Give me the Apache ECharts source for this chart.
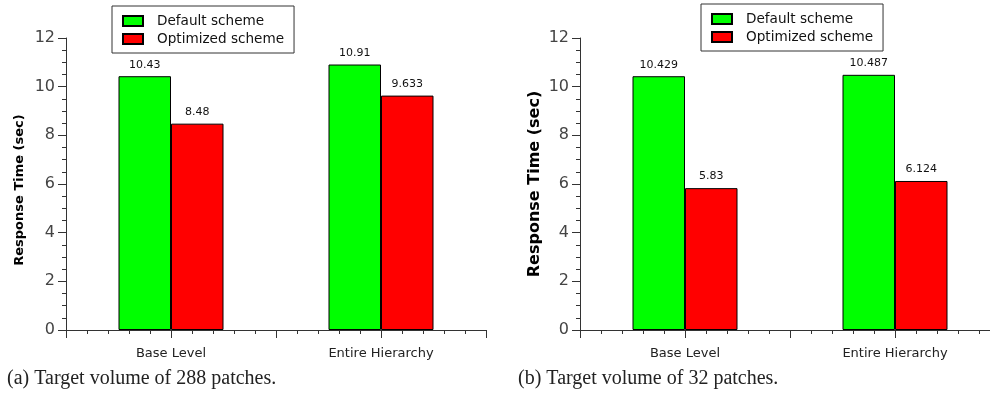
<!DOCTYPE html>
<html>
<head>
<meta charset="utf-8">
<script src="https://cdn.jsdelivr.net/npm/echarts@6/dist/echarts.min.js"></script>
<style>
html,body{margin:0;padding:0;background:#fff;}
#c{width:990px;height:397px;}
</style>
</head>
<body>
<div id="c"></div>
<script>
var categories = ['Base Level', 'Entire Hierarchy'];
var seriesNames = ['Default scheme', 'Optimized scheme'];
var defaultA = [10.43, 10.91];
var optimizedA = [8.48, 9.633];
var defaultB = [10.429, 10.487];
var optimizedB = [5.83, 6.124];
var yTicks = [0, 2, 4, 6, 8, 10, 12];
var captions = ['(a) Target volume of 288 patches.', '(b) Target volume of 32 patches.'];
var yTitle = 'Response Time (sec)';

function catPos(i) { return 2 * i + 1; }
function toPoints(arr) { return arr.map(function (v, i) { return [catPos(i), v]; }); }
function catLabel(v) {
  for (var i = 0; i < categories.length; i++) if (catPos(i) === v) return categories[i];
  return '';
}

var axisColor = '#333';
var font = 'DejaVu Sans';

function xAxisCfg(gi) {
  return {
    type: 'value', gridIndex: gi, min: 0, max: 2 * categories.length, interval: 1,
    axisLine: { show: true, lineStyle: { color: axisColor, width: 1 } },
    axisTick: { show: true, length: 8, lineStyle: { color: axisColor } },
    minorTick: { show: true, splitNumber: 5, length: 4, lineStyle: { color: axisColor } },
    splitLine: { show: false }, minorSplitLine: { show: false },
    axisLabel: { formatter: catLabel, color: '#222', fontFamily: font, fontSize: 13, margin: 17, showMinLabel: true, showMaxLabel: true }
  };
}
function yAxisCfg(gi, nameSize, gap, pad) {
  return {
    type: 'value', gridIndex: gi, min: yTicks[0], max: yTicks[yTicks.length - 1], interval: yTicks[1] - yTicks[0],
    name: yTitle, nameLocation: 'middle', nameGap: gap,
    nameTextStyle: { fontFamily: font, fontWeight: 'bold', fontSize: nameSize, color: '#000', padding: pad },
    axisLine: { show: true, lineStyle: { color: axisColor, width: 1 } },
    axisTick: { show: true, length: 8, lineStyle: { color: axisColor } },
    minorTick: { show: true, splitNumber: 4, length: 4, lineStyle: { color: axisColor } },
    splitLine: { show: false }, minorSplitLine: { show: false },
    axisLabel: { color: '#444', fontFamily: font, fontSize: 16, margin: 11 }
  };
}
function barSeries(name, data, gi, color) {
  return {
    name: name, type: 'bar', xAxisIndex: gi, yAxisIndex: gi,
    data: toPoints(data), barWidth: 52.5, barGap: '0%',
    itemStyle: { color: color, borderColor: '#000', borderWidth: 1 },
    label: { show: true, position: 'top', distance: 6, fontFamily: font, fontSize: 11, color: '#111',
      formatter: function (p) { return String(p.value[1]); } }
  };
}
function legendCfg(left, top) {
  return {
    data: seriesNames, orient: 'vertical', left: left, top: top,
    icon: 'rect', itemWidth: 20, itemHeight: 10, itemGap: 4,
    padding: [8, 10, 7, 10],
    borderColor: '#333', borderWidth: 1, backgroundColor: '#fff',
    textStyle: { fontFamily: font, fontSize: 13.6, color: '#111', padding: [0, 0, 0, 9], lineHeight: 13 }
  };
}

var chart = echarts.init(document.getElementById('c'));
chart.setOption({
  animation: false,
  title: [
    { text: captions[0], left: 7, top: 369, padding: 0, textStyle: { fontFamily: 'Liberation Serif', fontSize: 20, fontWeight: 'normal', color: '#222' } },
    { text: captions[1], left: 518, top: 369, padding: 0, textStyle: { fontFamily: 'Liberation Serif', fontSize: 20, fontWeight: 'normal', color: '#222' } }
  ],
  legend: [legendCfg(112, 6), legendCfg(701, 4)],
  grid: [
    { left: 66, top: 38, width: 420, height: 292, outerBoundsMode: 'none', containLabel: false },
    { left: 580, top: 38, width: 420, height: 292, outerBoundsMode: 'none', containLabel: false }
  ],
  xAxis: [xAxisCfg(0), xAxisCfg(1)],
  yAxis: [yAxisCfg(0, 13, 40, [0, 12, 0, 0]), yAxisCfg(1, 16, 37, 0)],
  series: [
    barSeries(seriesNames[0], defaultA, 0, '#00ff00'),
    barSeries(seriesNames[1], optimizedA, 0, '#ff0000'),
    barSeries(seriesNames[0], defaultB, 1, '#00ff00'),
    barSeries(seriesNames[1], optimizedB, 1, '#ff0000')
  ]
});
</script>
</body>
</html>
